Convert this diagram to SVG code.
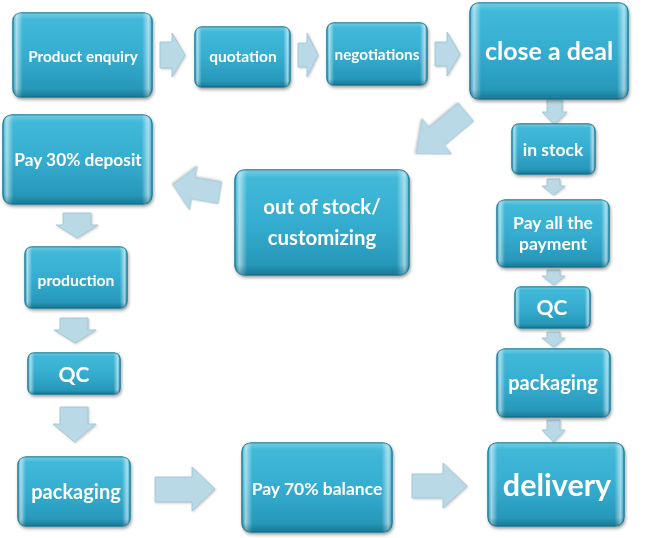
<svg xmlns="http://www.w3.org/2000/svg" width="648" height="538" viewBox="0 0 648 538">
<defs>
<linearGradient id="gv" x1="0" y1="0" x2="0" y2="1">
<stop offset="0" stop-color="#43bbda"/>
<stop offset="0.5" stop-color="#35add0"/>
<stop offset="1" stop-color="#2493b4"/>
</linearGradient>
<linearGradient id="gh" x1="0" y1="0" x2="1" y2="0">
<stop offset="0" stop-color="#fff" stop-opacity="0"/>
<stop offset="0.025" stop-color="#fff" stop-opacity="0.55"/>
<stop offset="0.07" stop-color="#fff" stop-opacity="0"/>
<stop offset="0.93" stop-color="#fff" stop-opacity="0"/>
<stop offset="0.975" stop-color="#fff" stop-opacity="0.55"/>
<stop offset="1" stop-color="#fff" stop-opacity="0"/>
</linearGradient>
<linearGradient id="gb" x1="0" y1="0" x2="0" y2="1">
<stop offset="0" stop-color="#fff" stop-opacity="0.25"/>
<stop offset="0.08" stop-color="#fff" stop-opacity="0"/>
<stop offset="0.9" stop-color="#0a5a72" stop-opacity="0"/>
<stop offset="1" stop-color="#0a5a72" stop-opacity="0.45"/>
</linearGradient>
<filter id="sh" x="-10%" y="-10%" width="125%" height="130%">
<feDropShadow dx="1" dy="2" stdDeviation="1.5" flood-color="#333" flood-opacity="0.45"/>
</filter>
<filter id="ash" x="-10%" y="-10%" width="130%" height="130%">
<feDropShadow dx="1" dy="1" stdDeviation="1" flood-color="#666" flood-opacity="0.35"/>
</filter>
</defs>
<style>
.b{fill:url(#gv);stroke:#1c7d99;stroke-width:1.5}
.h{fill:url(#gh)}
.s{fill:url(#gb)}
.a{fill:#b9d9e6;stroke:#9cc3d2;stroke-width:0.8;filter:url(#ash)}
text{font-family:Lato,"Open Sans","Liberation Sans",sans-serif;font-weight:bold;fill:#fff;text-anchor:middle}
.n{filter:url(#sh)}
</style>
<rect width="648" height="538" fill="#fff"/>
<g id="connectors">
<polygon class="a" points="160,42 172,42 172,33 185,55 172,77 172,68 160,68"/>
<polygon class="a" points="298,43 307,43 307,33 318,55 307,77 307,67 298,67"/>
<polygon class="a" points="435,42 447,42 447,32 460,54 447,76 447,66 435,66"/>
<polygon class="a" points="547,99 562,99 562,112 567,112 554.5,125 542,112 547,112"/>
<polygon class="a" points="0,-12 38,-12 38,-23 65,0 38,23 38,12 0,12" transform="translate(466,112) rotate(140)"/>
<polygon class="a" points="0,-11 27,-11 27,-22 48,0 27,22 27,11 0,11" transform="translate(220,193) rotate(190)"/>
<polygon class="a" points="63,213 91,213 91,225 98,225 77,238 56,225 63,225"/>
<polygon class="a" points="60,318 88,318 88,330 96,330 75,343 54,330 60,330"/>
<polygon class="a" points="60,407 88,407 88,424 96,424 74.5,442 53,424 60,424"/>
<polygon class="a" points="155,477 192,477 192,467 215,489 192,511 192,502 155,502"/>
<polygon class="a" points="412,474 443,474 443,463 467,486 443,508 443,498 412,498"/>
<polygon class="a" points="547,179 560,179 560,186 565,186 553.5,195 542,186 547,186"/>
<polygon class="a" points="547,270 560,270 560,276 565,276 553.5,285 542,276 547,276"/>
<polygon class="a" points="547,332 560,332 560,338 565,338 553.5,347 542,338 547,338"/>
<polygon class="a" points="547,420 560,420 560,430 565,430 553.5,442 542,430 547,430"/>
</g>
<g id="product-enquiry" class="n">
<rect class="b" x="13" y="13" width="139" height="84" rx="8"/>
<rect class="h" x="13" y="13" width="139" height="84" rx="8"/>
<rect class="s" x="13" y="13" width="139" height="84" rx="8"/>
<text x="83" y="61.5" font-size="15.3">Product enquiry</text>
</g>
<g id="quotation" class="n">
<rect class="b" x="195" y="27" width="95" height="60" rx="7"/>
<rect class="h" x="195" y="27" width="95" height="60" rx="7"/>
<rect class="s" x="195" y="27" width="95" height="60" rx="7"/>
<text x="243" y="62" font-size="15.5">quotation</text>
</g>
<g id="negotiations" class="n">
<rect class="b" x="327" y="23" width="100" height="62" rx="7"/>
<rect class="h" x="327" y="23" width="100" height="62" rx="7"/>
<rect class="s" x="327" y="23" width="100" height="62" rx="7"/>
<text x="377" y="60" font-size="15.3">negotiations</text>
</g>
<g id="close-a-deal" class="n">
<rect class="b" x="470" y="3" width="158" height="96" rx="9"/>
<rect class="h" x="470" y="3" width="158" height="96" rx="9"/>
<rect class="s" x="470" y="3" width="158" height="96" rx="9"/>
<text x="549" y="60" font-size="25">close a deal</text>
</g>
<g id="in-stock" class="n">
<rect class="b" x="512" y="124" width="83" height="50" rx="7"/>
<rect class="h" x="512" y="124" width="83" height="50" rx="7"/>
<rect class="s" x="512" y="124" width="83" height="50" rx="7"/>
<text x="553" y="156" font-size="17.5">in stock</text>
</g>
<g id="pay-all" class="n">
<rect class="b" x="497" y="200" width="112" height="67" rx="8"/>
<rect class="h" x="497" y="200" width="112" height="67" rx="8"/>
<rect class="s" x="497" y="200" width="112" height="67" rx="8"/>
<text x="553" y="229" font-size="17.5">Pay all the</text>
<text x="553" y="250" font-size="17.5">payment</text>
</g>
<g id="qc-right" class="n">
<rect class="b" x="515" y="287" width="75" height="41" rx="6"/>
<rect class="h" x="515" y="287" width="75" height="41" rx="6"/>
<rect class="s" x="515" y="287" width="75" height="41" rx="6"/>
<text x="552" y="315" font-size="21">QC</text>
</g>
<g id="packaging-right" class="n">
<rect class="b" x="497" y="349" width="113" height="68" rx="8"/>
<rect class="h" x="497" y="349" width="113" height="68" rx="8"/>
<rect class="s" x="497" y="349" width="113" height="68" rx="8"/>
<text x="553" y="390" font-size="20">packaging</text>
</g>
<g id="delivery" class="n">
<rect class="b" x="488" y="443" width="136" height="83" rx="9"/>
<rect class="h" x="488" y="443" width="136" height="83" rx="9"/>
<rect class="s" x="488" y="443" width="136" height="83" rx="9"/>
<text x="557" y="496" font-size="30.5">delivery</text>
</g>
<g id="pay-70" class="n">
<rect class="b" x="242" y="443" width="150" height="89" rx="9"/>
<rect class="h" x="242" y="443" width="150" height="89" rx="9"/>
<rect class="s" x="242" y="443" width="150" height="89" rx="9"/>
<text x="317" y="495" font-size="17.5">Pay 70% balance</text>
</g>
<g id="packaging-left" class="n">
<rect class="b" x="18" y="457" width="112" height="69" rx="8"/>
<rect class="h" x="18" y="457" width="112" height="69" rx="8"/>
<rect class="s" x="18" y="457" width="112" height="69" rx="8"/>
<text x="76" y="499" font-size="20">packaging</text>
</g>
<g id="qc-left" class="n">
<rect class="b" x="28" y="353" width="92" height="41" rx="6"/>
<rect class="h" x="28" y="353" width="92" height="41" rx="6"/>
<rect class="s" x="28" y="353" width="92" height="41" rx="6"/>
<text x="74" y="382" font-size="21">QC</text>
</g>
<g id="production" class="n">
<rect class="b" x="25" y="247" width="102" height="61" rx="7"/>
<rect class="h" x="25" y="247" width="102" height="61" rx="7"/>
<rect class="s" x="25" y="247" width="102" height="61" rx="7"/>
<text x="76" y="285.5" font-size="15.7">production</text>
</g>
<g id="pay-30" class="n">
<rect class="b" x="3" y="115" width="149" height="89" rx="9"/>
<rect class="h" x="3" y="115" width="149" height="89" rx="9"/>
<rect class="s" x="3" y="115" width="149" height="89" rx="9"/>
<text x="78" y="166" font-size="17.3">Pay 30% deposit</text>
</g>
<g id="out-of-stock" class="n">
<rect class="b" x="235" y="170" width="174" height="105" rx="10"/>
<rect class="h" x="235" y="170" width="174" height="105" rx="10"/>
<rect class="s" x="235" y="170" width="174" height="105" rx="10"/>
<text x="322" y="214" font-size="20.4">out of stock/</text>
<text x="322" y="245" font-size="20.4">customizing</text>
</g>
</svg>
